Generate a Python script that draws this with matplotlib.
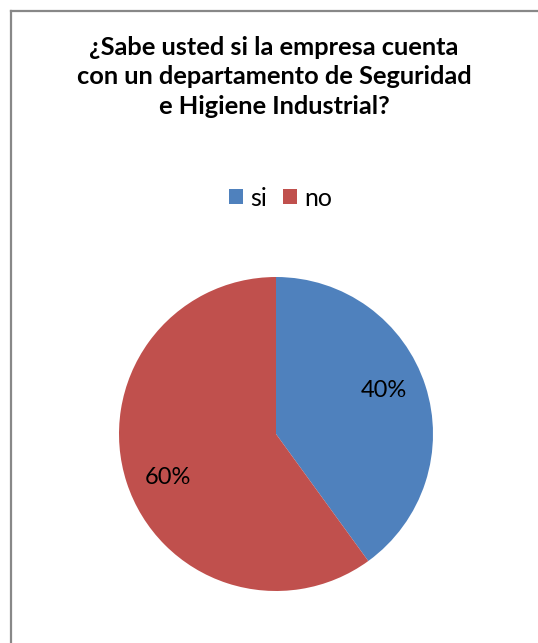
import matplotlib
matplotlib.use("Agg")
import matplotlib.pyplot as plt
from matplotlib.patches import Rectangle
from matplotlib.lines import Line2D
import numpy as np

# Survey answers
categories = ["si", "no"]
values = [40, 60]
colors = ["#4F81BD", "#C0504D"]
title = "¿Sabe usted si la empresa cuenta\ncon un departamento de Seguridad\ne Higiene Industrial?"

W, H = 538, 643
fig = plt.figure(figsize=(W / 100, H / 100), dpi=100)
fig.patch.set_facecolor("white")

plt.rcParams["font.family"] = ["Lato", "DejaVu Sans"]

# Chart frame (left and top edges visible)
fig.add_artist(Line2D([11 / W, 11 / W], [0, 1 - 11 / H], transform=fig.transFigure,
                      color="#888888", lw=1.6))
fig.add_artist(Line2D([11 / W, 1.0], [1 - 11 / H, 1 - 11 / H], transform=fig.transFigure,
                      color="#888888", lw=1.6))

# Title
fig.text(274 / W, 1 - 77 / H, title, ha="center", va="center", fontsize=18.3,
         fontweight="bold", linespacing=1.32, color="#000000")

# Pie
cx, cy, r = 276, 434, 157
ax = fig.add_axes([(cx - r) / W, (H - cy - r) / H, 2 * r / W, 2 * r / H])
wedges, texts = ax.pie(values, colors=colors, startangle=90, counterclock=False,
                       radius=1.0, wedgeprops=dict(linewidth=0))
ax.set_xlim(-1, 1)
ax.set_ylim(-1, 1)
ax.set_aspect("equal")
ax.axis("off")

# Percentage labels inside the slices
cum = 0
for v in values:
    mid = 90 - (cum + v / 2) / sum(values) * 360 + 4
    cum += v
    rr = 0.74
    ax.text(rr * np.cos(np.radians(mid)), rr * np.sin(np.radians(mid)), f"{v}%",
            ha="center", va="center", fontsize=17, color="#000000")

# Legend
handles = [Rectangle((0, 0), 1, 1, facecolor=c, edgecolor="none") for c in colors]
fig.legend(handles, categories, loc="center", bbox_to_anchor=(280.5 / W, 1 - 198 / H),
           ncol=2, frameon=False, fontsize=18, handlelength=0.56, handleheight=0.56,
           handletextpad=0.3, columnspacing=0.65, borderpad=0, borderaxespad=0)

fig.savefig("out.png", dpi=100, facecolor="white")
